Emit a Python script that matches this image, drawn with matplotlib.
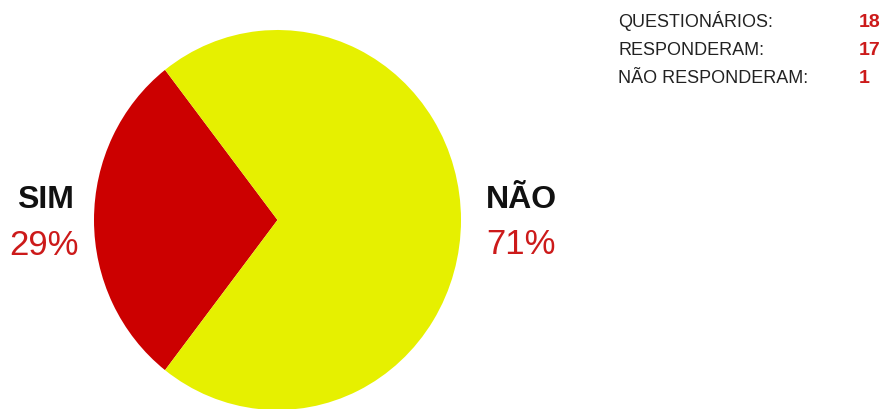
import matplotlib
matplotlib.use("Agg")
import matplotlib.pyplot as plt

# dados do grafico
rotulos = ["SIM", "NÃO"]
percentuais = [29, 71]
cores = ["#cc0000", "#e6f000"]

tabela_rotulos = ["QUESTIONÁRIOS:", "RESPONDERAM:", "NÃO RESPONDERAM:"]
tabela_valores = [18, 17, 1]

W, H = 893, 409
plt.rcParams['font.family'] = ['Liberation Sans', 'DejaVu Sans']
fig = plt.figure(figsize=(W / 100, H / 100), dpi=100)

# eixo do grafico de pizza (em pixels da imagem)
esq, dir_, topo, base = 94, 461, 30, 410
ax = fig.add_axes([esq / W, 1 - base / H, (dir_ - esq) / W, (base - topo) / H])
inicio = 180 - percentuais[0] / 100 * 360 / 2
ax.pie(percentuais, colors=cores, startangle=inicio, counterclock=True,
       wedgeprops=dict(linewidth=0))
ax.set_aspect('auto')
ax.set_xlim(-1, 1)
ax.set_ylim(-1, 1)
ax.axis('off')

def px(x, y):
    return x / W, 1 - y / H

vermelho = "#cc1a1a"
# rotulos das fatias
fig.text(*px(45, 208), rotulos[0], ha='center', va='baseline', fontsize=23,
         fontweight='bold', color='#111111')
fig.text(*px(44, 255), f"{percentuais[0]}%", ha='center', va='baseline',
         fontsize=25, color=vermelho)
fig.text(*px(521, 208), rotulos[1], ha='center', va='baseline', fontsize=23,
         fontweight='bold', color='#111111')
fig.text(*px(521, 254), f"{percentuais[1]}%", ha='center', va='baseline',
         fontsize=25, color=vermelho)

# tabela no canto superior direito
linhas_y = [27, 55, 83]
for rot, val, y in zip(tabela_rotulos, tabela_valores, linhas_y):
    fig.text(*px(618, y), rot, ha='left', va='baseline', fontsize=13,
             color='#222222')
    fig.text(*px(859, y), str(val), ha='left', va='baseline', fontsize=14,
             fontweight='bold', color=vermelho)

fig.savefig("out.png", dpi=100)
